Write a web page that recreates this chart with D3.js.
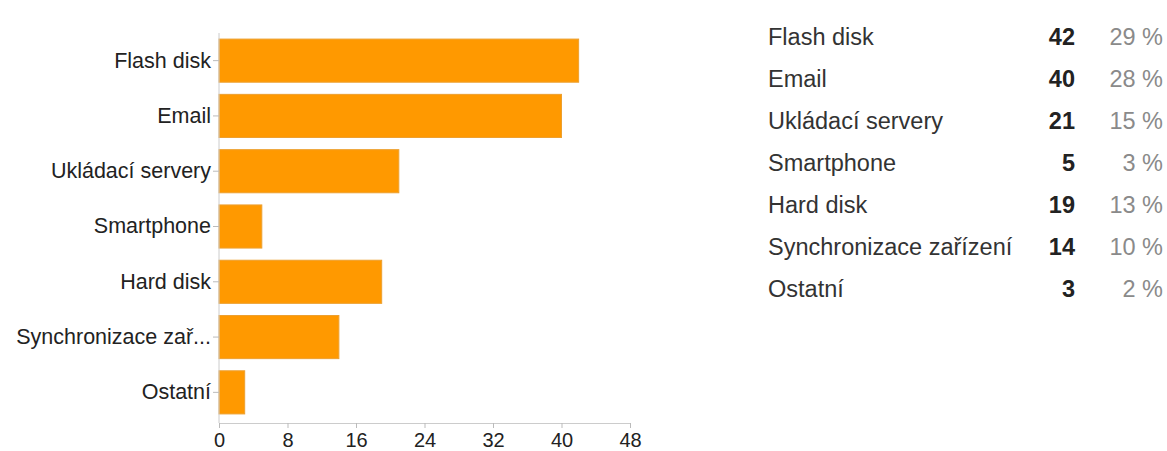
<!DOCTYPE html>
<html>
<head>
<meta charset="utf-8">
<script src="https://cdn.jsdelivr.net/npm/d3@7"></script>
<style>
  body { margin: 0; background: #fff; }
  svg { font-family: "Liberation Sans", Arial, sans-serif; }
</style>
</head>
<body>
<svg id="chart" width="1167" height="451"></svg>
<script>
const categories = ["Flash disk", "Email", "Ukládací servery", "Smartphone", "Hard disk", "Synchronizace zařízení", "Ostatní"];
const shortLabels = ["Flash disk", "Email", "Ukládací servery", "Smartphone", "Hard disk", "Synchronizace zař...", "Ostatní"];
const counts = [42, 40, 21, 5, 19, 14, 3];
const percents = ["29 %", "28 %", "15 %", "3 %", "13 %", "10 %", "2 %"];
const xTicks = [0, 8, 16, 24, 32, 40, 48];

const svg = d3.select("#chart");

// bar chart
const x = d3.scaleLinear().domain([0, 48]).range([219, 630]);
const y = d3.scaleBand().domain(categories).range([33, 420]).paddingInner(0.22).paddingOuter(0.11);

svg.append("g")
   .selectAll("rect")
   .data(categories)
   .join("rect")
   .attr("x", x(0))
   .attr("y", d => y(d))
   .attr("width", (d, i) => x(counts[i]) - x(0))
   .attr("height", y.bandwidth())
   .attr("fill", "#ff9900")
   .attr("stroke", "#eda030")
   .attr("stroke-width", 1);

// y axis
const yAxis = svg.append("g")
   .attr("transform", `translate(${x(0)},0)`)
   .call(d3.axisLeft(y).tickSize(6).tickPadding(2).tickFormat((d, i) => shortLabels[i]));
yAxis.select(".domain").attr("stroke", "#ccc").attr("d", "M0,33V423");
yAxis.selectAll(".tick line").attr("stroke", "#bbb");
yAxis.selectAll(".tick text").attr("fill", "#222").style("font-size", "21.5px");

// x axis
const xAxis = svg.append("g")
   .attr("transform", "translate(0,423)")
   .call(d3.axisBottom(x).tickValues(xTicks).tickSize(5).tickPadding(5));
xAxis.select(".domain").attr("stroke", "#ccc");
xAxis.selectAll(".tick line").attr("stroke", "#bbb");
xAxis.selectAll(".tick text").attr("fill", "#222").style("font-size", "20px");

// table on the right
const rowY = d3.scalePoint().domain(categories).range([45, 297]);
const rows = svg.append("g")
   .selectAll("g")
   .data(categories)
   .join("g")
   .attr("transform", d => `translate(0,${rowY(d)})`);

rows.append("text")
    .attr("x", 768)
    .attr("fill", "#333")
    .style("font-size", "23.5px")
    .text(d => d);

rows.append("text")
    .attr("x", 1075)
    .attr("text-anchor", "end")
    .attr("fill", "#222")
    .style("font-size", "23.5px")
    .style("font-weight", "bold")
    .text((d, i) => counts[i]);

rows.append("text")
    .attr("x", 1163)
    .attr("text-anchor", "end")
    .attr("fill", "#8a8a8a")
    .style("font-size", "23.5px")
    .text((d, i) => percents[i]);
</script>
</body>
</html>
